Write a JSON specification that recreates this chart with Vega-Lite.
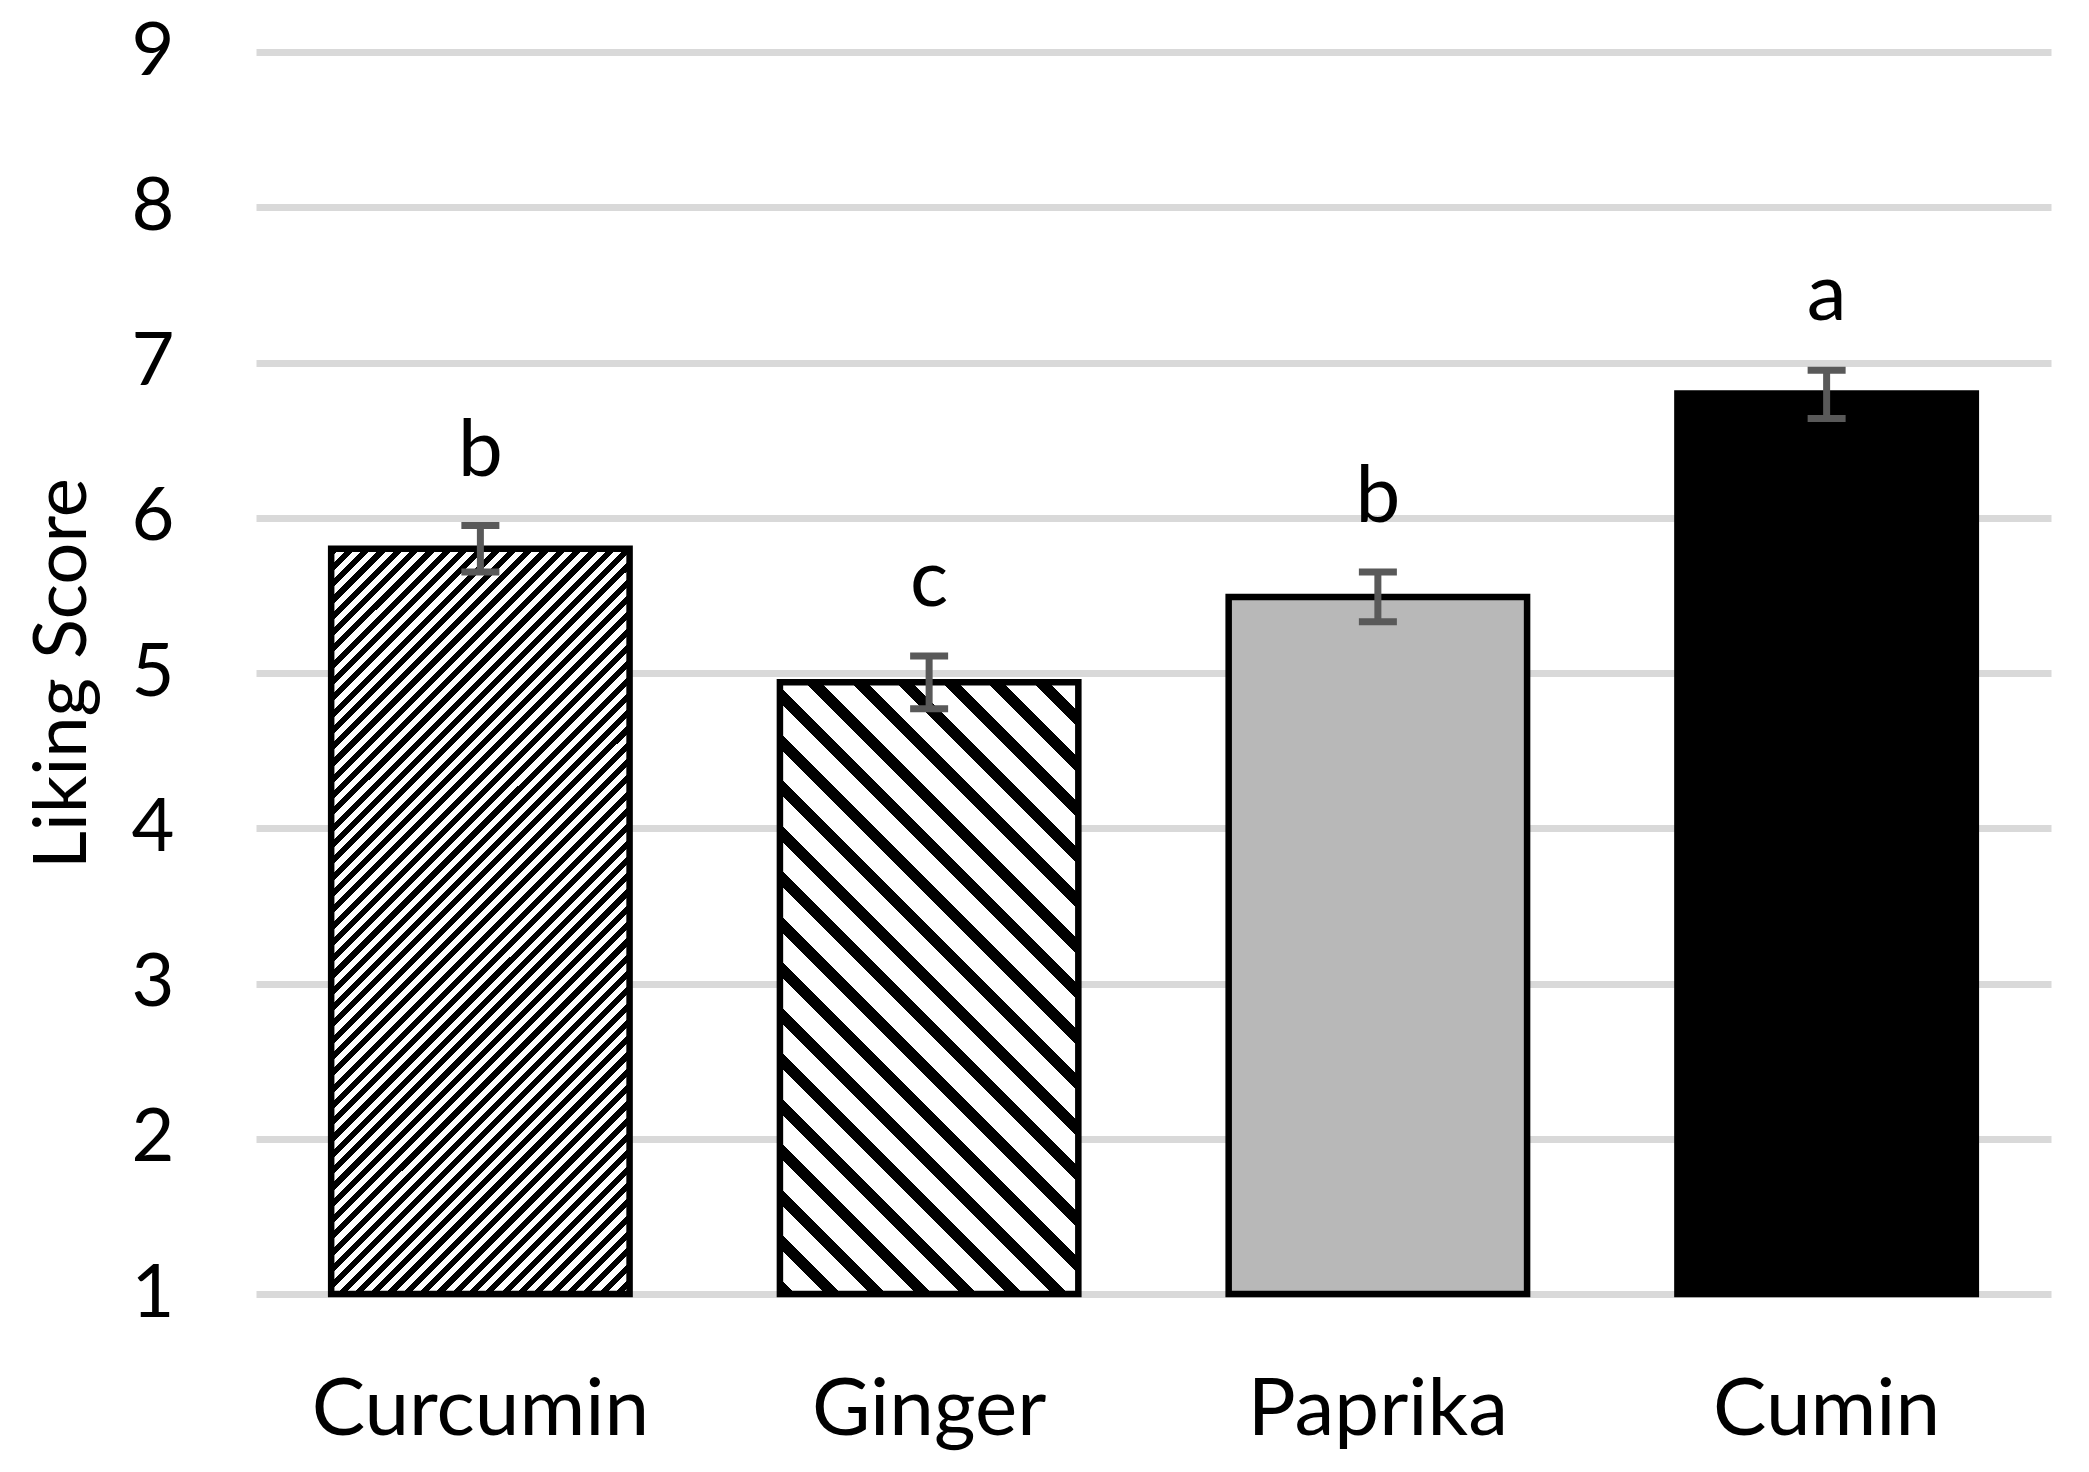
{
  "$schema": "https://vega.github.io/schema/vega-lite/v6.json",
  "width": 1795,
  "height": 1242,
  "autosize": "none",
  "padding": {"left": 256, "top": 52, "right": 38, "bottom": 178},
  "background": "white",
  "config": {"view": {"stroke": null}, "font": "Lato"},
  "data": {
    "values": [
      {"spice": "Curcumin", "score": 5.8, "lo": 5.65, "hi": 5.95, "group": "b"},
      {"spice": "Ginger", "score": 4.94, "lo": 4.77, "hi": 5.11, "group": "c"},
      {"spice": "Paprika", "score": 5.49, "lo": 5.33, "hi": 5.65, "group": "b"},
      {"spice": "Cumin", "score": 6.8, "lo": 6.64, "hi": 6.95, "group": "a"}
    ]
  },
  "encoding": {
    "x": {
      "field": "spice",
      "type": "nominal",
      "sort": null,
      "scale": {"paddingInner": 0.335, "paddingOuter": 0.1675},
      "axis": {
        "title": null,
        "labelAngle": 0,
        "labelFont": "Lato",
        "labelFontSize": 80,
        "labelColor": "#000",
        "labelPadding": 77,
        "labelLimit": 0,
        "ticks": false,
        "domain": false,
        "grid": false
      }
    },
    "y": {
      "field": "score",
      "type": "quantitative",
      "scale": {"domain": [1, 9], "nice": false, "zero": false},
      "axis": {
        "title": "Liking Score",
        "titleFont": "Lato",
        "titleFontSize": 74,
        "titleFontWeight": "normal",
        "titleColor": "#000",
        "titlePadding": 30,
        "values": [1, 2, 3, 4, 5, 6, 7, 8, 9],
        "format": "d",
        "labelFont": "Lato",
        "labelFontSize": 74,
        "labelColor": "#000",
        "labelPadding": 82,
        "ticks": false,
        "domain": false,
        "gridColor": "#d9d9d9",
        "gridWidth": 7
      }
    }
  },
  "layer": [
    {
      "transform": [{"filter": "datum.spice === 'Curcumin'"}],
      "mark": {
        "type": "bar",
        "stroke": "#000",
        "strokeWidth": 6.5,
        "fill": {
          "gradient": "linear", "x1": 0, "y1": 0, "x2": 0.4832, "y2": 1.2069,
          "stops": [
            {"offset":0,"color":"#000"},
            {"offset":0.0078,"color":"#000"},{"offset":0.0078,"color":"#fff"},
            {"offset":0.0156,"color":"#fff"},{"offset":0.0156,"color":"#000"},
            {"offset":0.0234,"color":"#000"},{"offset":0.0234,"color":"#fff"},
            {"offset":0.0313,"color":"#fff"},{"offset":0.0313,"color":"#000"},
            {"offset":0.0391,"color":"#000"},{"offset":0.0391,"color":"#fff"},
            {"offset":0.0469,"color":"#fff"},{"offset":0.0469,"color":"#000"},
            {"offset":0.0547,"color":"#000"},{"offset":0.0547,"color":"#fff"},
            {"offset":0.0625,"color":"#fff"},{"offset":0.0625,"color":"#000"},
            {"offset":0.0703,"color":"#000"},{"offset":0.0703,"color":"#fff"},
            {"offset":0.0781,"color":"#fff"},{"offset":0.0781,"color":"#000"},
            {"offset":0.0859,"color":"#000"},{"offset":0.0859,"color":"#fff"},
            {"offset":0.0938,"color":"#fff"},{"offset":0.0938,"color":"#000"},
            {"offset":0.1016,"color":"#000"},{"offset":0.1016,"color":"#fff"},
            {"offset":0.1094,"color":"#fff"},{"offset":0.1094,"color":"#000"},
            {"offset":0.1172,"color":"#000"},{"offset":0.1172,"color":"#fff"},
            {"offset":0.125,"color":"#fff"},{"offset":0.125,"color":"#000"},
            {"offset":0.1328,"color":"#000"},{"offset":0.1328,"color":"#fff"},
            {"offset":0.1406,"color":"#fff"},{"offset":0.1406,"color":"#000"},
            {"offset":0.1484,"color":"#000"},{"offset":0.1484,"color":"#fff"},
            {"offset":0.1563,"color":"#fff"},{"offset":0.1563,"color":"#000"},
            {"offset":0.1641,"color":"#000"},{"offset":0.1641,"color":"#fff"},
            {"offset":0.1719,"color":"#fff"},{"offset":0.1719,"color":"#000"},
            {"offset":0.1797,"color":"#000"},{"offset":0.1797,"color":"#fff"},
            {"offset":0.1875,"color":"#fff"},{"offset":0.1875,"color":"#000"},
            {"offset":0.1953,"color":"#000"},{"offset":0.1953,"color":"#fff"},
            {"offset":0.2031,"color":"#fff"},{"offset":0.2031,"color":"#000"},
            {"offset":0.2109,"color":"#000"},{"offset":0.2109,"color":"#fff"},
            {"offset":0.2188,"color":"#fff"},{"offset":0.2188,"color":"#000"},
            {"offset":0.2266,"color":"#000"},{"offset":0.2266,"color":"#fff"},
            {"offset":0.2344,"color":"#fff"},{"offset":0.2344,"color":"#000"},
            {"offset":0.2422,"color":"#000"},{"offset":0.2422,"color":"#fff"},
            {"offset":0.25,"color":"#fff"},{"offset":0.25,"color":"#000"},
            {"offset":0.2578,"color":"#000"},{"offset":0.2578,"color":"#fff"},
            {"offset":0.2656,"color":"#fff"},{"offset":0.2656,"color":"#000"},
            {"offset":0.2734,"color":"#000"},{"offset":0.2734,"color":"#fff"},
            {"offset":0.2813,"color":"#fff"},{"offset":0.2813,"color":"#000"},
            {"offset":0.2891,"color":"#000"},{"offset":0.2891,"color":"#fff"},
            {"offset":0.2969,"color":"#fff"},{"offset":0.2969,"color":"#000"},
            {"offset":0.3047,"color":"#000"},{"offset":0.3047,"color":"#fff"},
            {"offset":0.3125,"color":"#fff"},{"offset":0.3125,"color":"#000"},
            {"offset":0.3203,"color":"#000"},{"offset":0.3203,"color":"#fff"},
            {"offset":0.3281,"color":"#fff"},{"offset":0.3281,"color":"#000"},
            {"offset":0.3359,"color":"#000"},{"offset":0.3359,"color":"#fff"},
            {"offset":0.3438,"color":"#fff"},{"offset":0.3438,"color":"#000"},
            {"offset":0.3516,"color":"#000"},{"offset":0.3516,"color":"#fff"},
            {"offset":0.3594,"color":"#fff"},{"offset":0.3594,"color":"#000"},
            {"offset":0.3672,"color":"#000"},{"offset":0.3672,"color":"#fff"},
            {"offset":0.375,"color":"#fff"},{"offset":0.375,"color":"#000"},
            {"offset":0.3828,"color":"#000"},{"offset":0.3828,"color":"#fff"},
            {"offset":0.3906,"color":"#fff"},{"offset":0.3906,"color":"#000"},
            {"offset":0.3984,"color":"#000"},{"offset":0.3984,"color":"#fff"},
            {"offset":0.4063,"color":"#fff"},{"offset":0.4063,"color":"#000"},
            {"offset":0.4141,"color":"#000"},{"offset":0.4141,"color":"#fff"},
            {"offset":0.4219,"color":"#fff"},{"offset":0.4219,"color":"#000"},
            {"offset":0.4297,"color":"#000"},{"offset":0.4297,"color":"#fff"},
            {"offset":0.4375,"color":"#fff"},{"offset":0.4375,"color":"#000"},
            {"offset":0.4453,"color":"#000"},{"offset":0.4453,"color":"#fff"},
            {"offset":0.4531,"color":"#fff"},{"offset":0.4531,"color":"#000"},
            {"offset":0.4609,"color":"#000"},{"offset":0.4609,"color":"#fff"},
            {"offset":0.4688,"color":"#fff"},{"offset":0.4688,"color":"#000"},
            {"offset":0.4766,"color":"#000"},{"offset":0.4766,"color":"#fff"},
            {"offset":0.4844,"color":"#fff"},{"offset":0.4844,"color":"#000"},
            {"offset":0.4922,"color":"#000"},{"offset":0.4922,"color":"#fff"},
            {"offset":0.5,"color":"#fff"},{"offset":0.5,"color":"#000"},
            {"offset":0.5078,"color":"#000"},{"offset":0.5078,"color":"#fff"},
            {"offset":0.5156,"color":"#fff"},{"offset":0.5156,"color":"#000"},
            {"offset":0.5234,"color":"#000"},{"offset":0.5234,"color":"#fff"},
            {"offset":0.5313,"color":"#fff"},{"offset":0.5313,"color":"#000"},
            {"offset":0.5391,"color":"#000"},{"offset":0.5391,"color":"#fff"},
            {"offset":0.5469,"color":"#fff"},{"offset":0.5469,"color":"#000"},
            {"offset":0.5547,"color":"#000"},{"offset":0.5547,"color":"#fff"},
            {"offset":0.5625,"color":"#fff"},{"offset":0.5625,"color":"#000"},
            {"offset":0.5703,"color":"#000"},{"offset":0.5703,"color":"#fff"},
            {"offset":0.5781,"color":"#fff"},{"offset":0.5781,"color":"#000"},
            {"offset":0.5859,"color":"#000"},{"offset":0.5859,"color":"#fff"},
            {"offset":0.5938,"color":"#fff"},{"offset":0.5938,"color":"#000"},
            {"offset":0.6016,"color":"#000"},{"offset":0.6016,"color":"#fff"},
            {"offset":0.6094,"color":"#fff"},{"offset":0.6094,"color":"#000"},
            {"offset":0.6172,"color":"#000"},{"offset":0.6172,"color":"#fff"},
            {"offset":0.625,"color":"#fff"},{"offset":0.625,"color":"#000"},
            {"offset":0.6328,"color":"#000"},{"offset":0.6328,"color":"#fff"},
            {"offset":0.6406,"color":"#fff"},{"offset":0.6406,"color":"#000"},
            {"offset":0.6484,"color":"#000"},{"offset":0.6484,"color":"#fff"},
            {"offset":0.6563,"color":"#fff"},{"offset":0.6563,"color":"#000"},
            {"offset":0.6641,"color":"#000"},{"offset":0.6641,"color":"#fff"},
            {"offset":0.6719,"color":"#fff"},{"offset":0.6719,"color":"#000"},
            {"offset":0.6797,"color":"#000"},{"offset":0.6797,"color":"#fff"},
            {"offset":0.6875,"color":"#fff"},{"offset":0.6875,"color":"#000"},
            {"offset":0.6953,"color":"#000"},{"offset":0.6953,"color":"#fff"},
            {"offset":0.7031,"color":"#fff"},{"offset":0.7031,"color":"#000"},
            {"offset":0.7109,"color":"#000"},{"offset":0.7109,"color":"#fff"},
            {"offset":0.7188,"color":"#fff"},{"offset":0.7188,"color":"#000"},
            {"offset":0.7266,"color":"#000"},{"offset":0.7266,"color":"#fff"},
            {"offset":0.7344,"color":"#fff"},{"offset":0.7344,"color":"#000"},
            {"offset":0.7422,"color":"#000"},{"offset":0.7422,"color":"#fff"},
            {"offset":0.75,"color":"#fff"},{"offset":0.75,"color":"#000"},
            {"offset":0.7578,"color":"#000"},{"offset":0.7578,"color":"#fff"},
            {"offset":0.7656,"color":"#fff"},{"offset":0.7656,"color":"#000"},
            {"offset":0.7734,"color":"#000"},{"offset":0.7734,"color":"#fff"},
            {"offset":0.7813,"color":"#fff"},{"offset":0.7813,"color":"#000"},
            {"offset":0.7891,"color":"#000"},{"offset":0.7891,"color":"#fff"},
            {"offset":0.7969,"color":"#fff"},{"offset":0.7969,"color":"#000"},
            {"offset":0.8047,"color":"#000"},{"offset":0.8047,"color":"#fff"},
            {"offset":0.8125,"color":"#fff"},{"offset":0.8125,"color":"#000"},
            {"offset":0.8203,"color":"#000"},{"offset":0.8203,"color":"#fff"},
            {"offset":0.8281,"color":"#fff"},{"offset":0.8281,"color":"#000"},
            {"offset":0.8359,"color":"#000"},{"offset":0.8359,"color":"#fff"},
            {"offset":0.8438,"color":"#fff"},{"offset":0.8438,"color":"#000"},
            {"offset":0.8516,"color":"#000"},{"offset":0.8516,"color":"#fff"},
            {"offset":0.8594,"color":"#fff"},{"offset":0.8594,"color":"#000"},
            {"offset":0.8672,"color":"#000"},{"offset":0.8672,"color":"#fff"},
            {"offset":0.875,"color":"#fff"},{"offset":0.875,"color":"#000"},
            {"offset":0.8828,"color":"#000"},{"offset":0.8828,"color":"#fff"},
            {"offset":0.8906,"color":"#fff"},{"offset":0.8906,"color":"#000"},
            {"offset":0.8984,"color":"#000"},{"offset":0.8984,"color":"#fff"},
            {"offset":0.9063,"color":"#fff"},{"offset":0.9063,"color":"#000"},
            {"offset":0.9141,"color":"#000"},{"offset":0.9141,"color":"#fff"},
            {"offset":0.9219,"color":"#fff"},{"offset":0.9219,"color":"#000"},
            {"offset":0.9297,"color":"#000"},{"offset":0.9297,"color":"#fff"},
            {"offset":0.9375,"color":"#fff"},{"offset":0.9375,"color":"#000"},
            {"offset":0.9453,"color":"#000"},{"offset":0.9453,"color":"#fff"},
            {"offset":0.9531,"color":"#fff"},{"offset":0.9531,"color":"#000"},
            {"offset":0.9609,"color":"#000"},{"offset":0.9609,"color":"#fff"},
            {"offset":0.9688,"color":"#fff"},{"offset":0.9688,"color":"#000"},
            {"offset":0.9766,"color":"#000"},{"offset":0.9766,"color":"#fff"},
            {"offset":0.9844,"color":"#fff"},{"offset":0.9844,"color":"#000"},
            {"offset":0.9922,"color":"#000"},{"offset":0.9922,"color":"#fff"},
            {"offset":1,"color":"#fff"}
          ]
        }
      },
      "encoding": {"y2": {"datum": 1}}
    },
    {
      "transform": [{"filter": "datum.spice === 'Ginger'"}],
      "mark": {
        "type": "bar",
        "stroke": "#000",
        "strokeWidth": 6.5,
        "fill": {
          "gradient": "linear", "x1": 0, "y1": 1, "x2": 0.5862, "y2": -0.2018,
          "stops": [
            {"offset":0,"color":"#000"},{"offset":0.0175,"color":"#000"},{"offset":0.0175,"color":"#fff"},{"offset":0.05,"color":"#fff"},
            {"offset":0.05,"color":"#000"},{"offset":0.0675,"color":"#000"},{"offset":0.0675,"color":"#fff"},{"offset":0.1,"color":"#fff"},
            {"offset":0.1,"color":"#000"},{"offset":0.1175,"color":"#000"},{"offset":0.1175,"color":"#fff"},{"offset":0.15,"color":"#fff"},
            {"offset":0.15,"color":"#000"},{"offset":0.1675,"color":"#000"},{"offset":0.1675,"color":"#fff"},{"offset":0.2,"color":"#fff"},
            {"offset":0.2,"color":"#000"},{"offset":0.2175,"color":"#000"},{"offset":0.2175,"color":"#fff"},{"offset":0.25,"color":"#fff"},
            {"offset":0.25,"color":"#000"},{"offset":0.2675,"color":"#000"},{"offset":0.2675,"color":"#fff"},{"offset":0.3,"color":"#fff"},
            {"offset":0.3,"color":"#000"},{"offset":0.3175,"color":"#000"},{"offset":0.3175,"color":"#fff"},{"offset":0.35,"color":"#fff"},
            {"offset":0.35,"color":"#000"},{"offset":0.3675,"color":"#000"},{"offset":0.3675,"color":"#fff"},{"offset":0.4,"color":"#fff"},
            {"offset":0.4,"color":"#000"},{"offset":0.4175,"color":"#000"},{"offset":0.4175,"color":"#fff"},{"offset":0.45,"color":"#fff"},
            {"offset":0.45,"color":"#000"},{"offset":0.4675,"color":"#000"},{"offset":0.4675,"color":"#fff"},{"offset":0.5,"color":"#fff"},
            {"offset":0.5,"color":"#000"},{"offset":0.5175,"color":"#000"},{"offset":0.5175,"color":"#fff"},{"offset":0.55,"color":"#fff"},
            {"offset":0.55,"color":"#000"},{"offset":0.5675,"color":"#000"},{"offset":0.5675,"color":"#fff"},{"offset":0.6,"color":"#fff"},
            {"offset":0.6,"color":"#000"},{"offset":0.6175,"color":"#000"},{"offset":0.6175,"color":"#fff"},{"offset":0.65,"color":"#fff"},
            {"offset":0.65,"color":"#000"},{"offset":0.6675,"color":"#000"},{"offset":0.6675,"color":"#fff"},{"offset":0.7,"color":"#fff"},
            {"offset":0.7,"color":"#000"},{"offset":0.7175,"color":"#000"},{"offset":0.7175,"color":"#fff"},{"offset":0.75,"color":"#fff"},
            {"offset":0.75,"color":"#000"},{"offset":0.7675,"color":"#000"},{"offset":0.7675,"color":"#fff"},{"offset":0.8,"color":"#fff"},
            {"offset":0.8,"color":"#000"},{"offset":0.8175,"color":"#000"},{"offset":0.8175,"color":"#fff"},{"offset":0.85,"color":"#fff"},
            {"offset":0.85,"color":"#000"},{"offset":0.8675,"color":"#000"},{"offset":0.8675,"color":"#fff"},{"offset":0.9,"color":"#fff"},
            {"offset":0.9,"color":"#000"},{"offset":0.9175,"color":"#000"},{"offset":0.9175,"color":"#fff"},{"offset":0.95,"color":"#fff"},
            {"offset":0.95,"color":"#000"},{"offset":0.9675,"color":"#000"},{"offset":0.9675,"color":"#fff"},{"offset":1,"color":"#fff"}
          ]
        }
      },
      "encoding": {"y2": {"datum": 1}}
    },
    {
      "transform": [{"filter": "datum.spice === 'Paprika'"}],
      "mark": {"type": "bar", "stroke": "#000", "strokeWidth": 6.5, "fill": "#b8b8b8"},
      "encoding": {"y2": {"datum": 1}}
    },
    {
      "transform": [{"filter": "datum.spice === 'Cumin'"}],
      "mark": {"type": "bar", "stroke": "#000", "strokeWidth": 6.5, "fill": "#000"},
      "encoding": {"y2": {"datum": 1}}
    },
    {
      "mark": {"type": "rule", "color": "#595959", "strokeWidth": 7, "opacity": 1},
      "encoding": {
        "y": {"field": "lo", "type": "quantitative"},
        "y2": {"field": "hi"}
      }
    },
    {
      "mark": {"type": "tick", "color": "#595959", "size": 38, "thickness": 7, "opacity": 1},
      "encoding": {
        "y": {"field": "lo", "type": "quantitative"}
      }
    },
    {
      "mark": {"type": "tick", "color": "#595959", "size": 38, "thickness": 7, "opacity": 1},
      "encoding": {
        "y": {"field": "hi", "type": "quantitative"}
      }
    },
    {
      "mark": {"type": "text", "font": "Lato", "fontSize": 80, "color": "#000", "baseline": "alphabetic", "dy": -50},
      "encoding": {
        "y": {"field": "hi", "type": "quantitative"},
        "text": {"field": "group"}
      }
    }
  ]
}
